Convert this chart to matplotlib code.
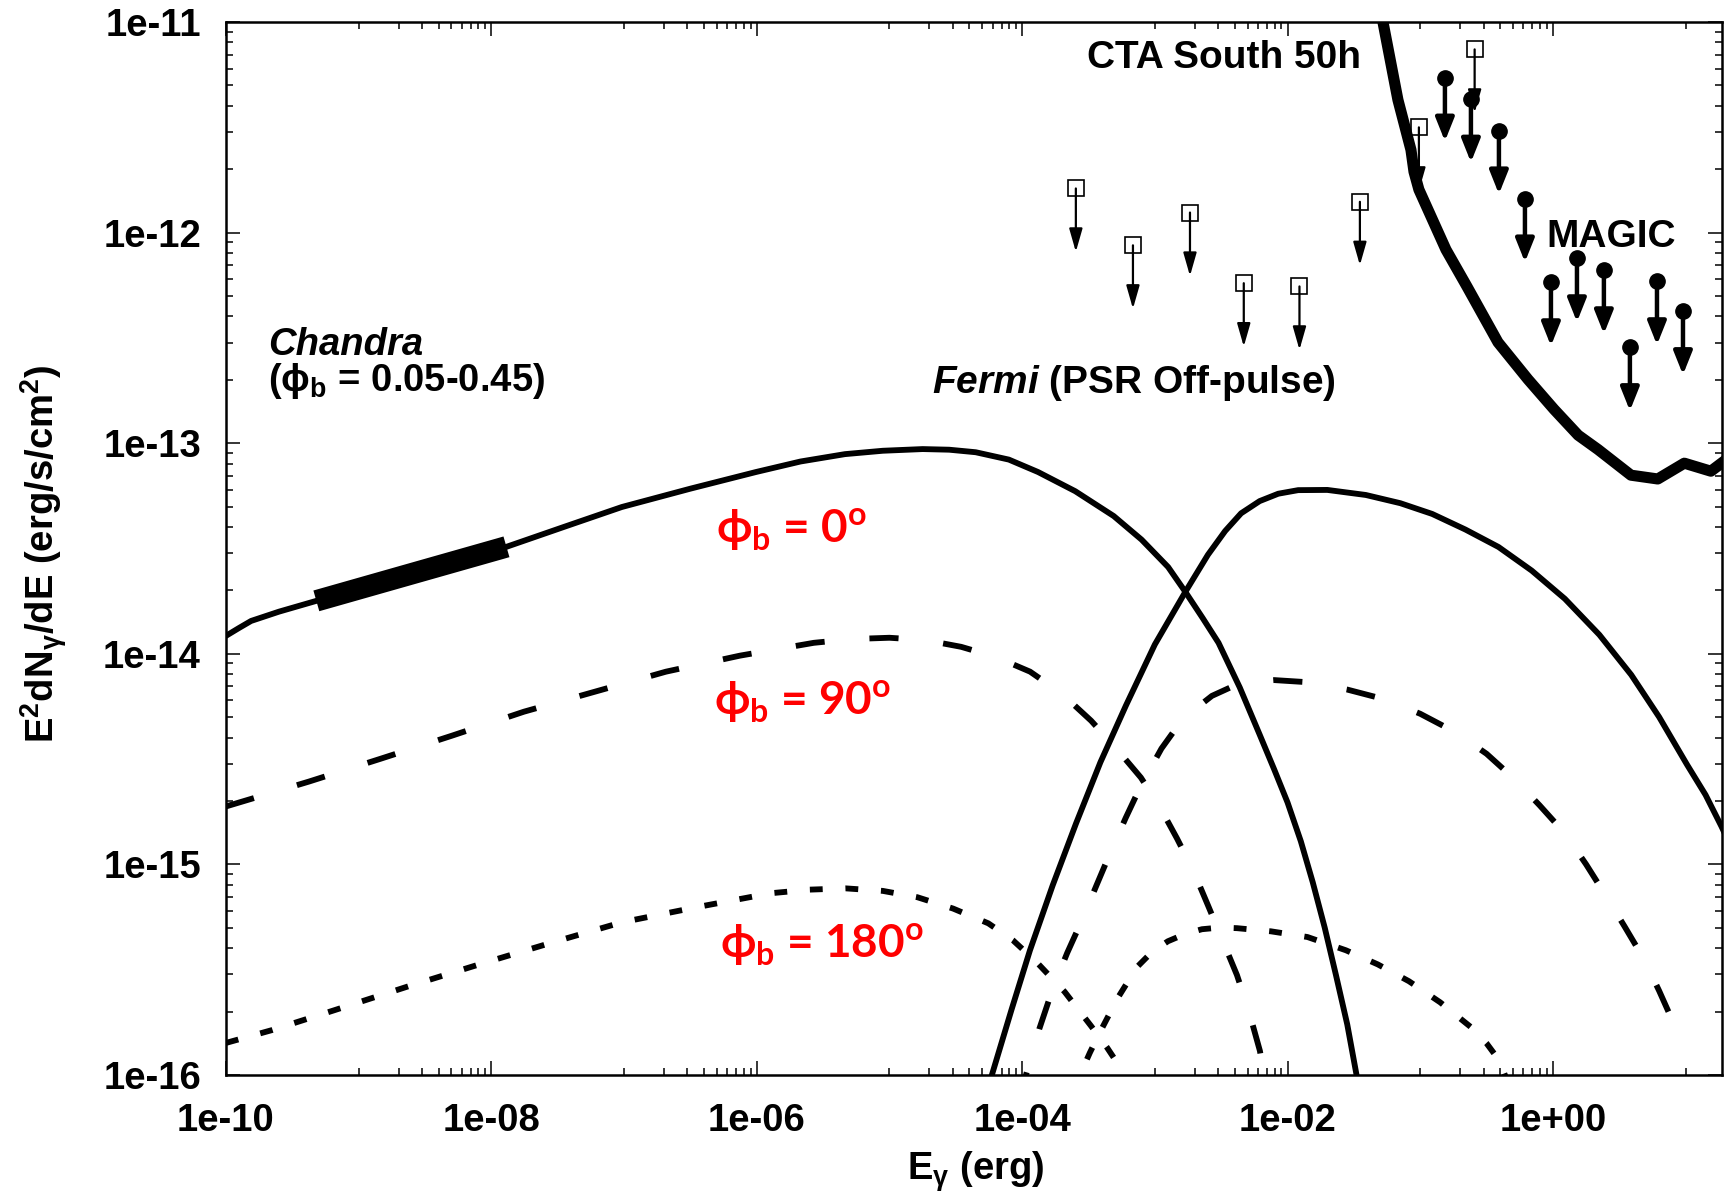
import matplotlib
matplotlib.use("Agg")
import matplotlib.pyplot as plt
import numpy as np
from matplotlib.ticker import FixedLocator, FuncFormatter, NullFormatter

# ---------------------------------------------------------------- data
# log10 E (erg) and log10 E^2 dN/dE (erg/s/cm2)

sync0_logE = [-10.0, -9.9, -9.81, -9.6, -9.32, -8.6, -7.89, -7.45, -7.016, -6.5,
              -6.006, -5.67, -5.335, -5.05, -4.75, -4.55, -4.35, -4.1, -3.88,
              -3.6, -3.31, -3.1, -2.90, -2.77, -2.64, -2.52, -2.36, -2.21, -2.1,
              -2.00, -1.9, -1.81, -1.72, -1.635, -1.55, -1.48, -1.46]
sync0_logF = [-13.915, -13.877, -13.844, -13.80, -13.749, -13.62, -13.493,
              -13.397, -13.303, -13.216, -13.137, -13.087, -13.052, -13.036,
              -13.028, -13.031, -13.043, -13.078, -13.137, -13.228, -13.346,
              -13.458, -13.588, -13.706, -13.83, -13.948, -14.16, -14.384,
              -14.55, -14.706, -14.89, -15.085, -15.30, -15.526, -15.76, -16.0,
              -16.07]

ic0_logE = [-4.30, -4.228, -4.08, -3.941, -3.77, -3.594, -3.41, -3.218, -3.0,
            -2.77, -2.6, -2.47, -2.35, -2.21, -2.07, -1.92, -1.7, -1.41, -1.15,
            -0.91, -0.66, -0.41, -0.16, 0.09, 0.35, 0.59, 0.8, 1.01, 1.15, 1.27,
            1.30]
ic0_logF = [-16.15, -16.0, -15.69, -15.408, -15.10, -14.806, -14.515, -14.246,
            -13.956, -13.706, -13.53, -13.417, -13.333, -13.275, -13.24, -13.223,
            -13.222, -13.246, -13.285, -13.336, -13.41, -13.493, -13.605,
            -13.739, -13.91, -14.10, -14.30, -14.526, -14.67, -14.82, -14.86]

sync90_logE = [-10.0, -9.375, -8.832, -8.297, -7.754, -7.219, -6.684, -6.127,
               -5.57, -5.28, -5.0, -4.73, -4.46, -4.2, -3.94, -3.7, -3.48, -3.29,
               -3.105, -2.96, -2.833, -2.71, -2.6, -2.49, -2.381, -2.29, -2.208,
               -2.178, -2.16]
sync90_logF = [-14.725, -14.607, -14.498, -14.389, -14.275, -14.18, -14.085,
               -14.009, -13.948, -13.93, -13.924, -13.935, -13.967, -14.015,
               -14.085, -14.19, -14.318, -14.45, -14.588, -14.73, -14.877,
               -15.03, -15.194, -15.36, -15.526, -15.70, -15.886, -16.0, -16.08]

ic90_logE = [-4.03, -3.971, -3.87, -3.768, -3.66, -3.549, -3.44, -3.338, -3.22,
             -3.105, -2.95, -2.788, -2.57, -2.351, -2.1, -1.85, -1.55, -1.258,
             -1.0, -0.731, -0.5, -0.286, -0.1, 0.09, 0.25, 0.392, 0.54, 0.686,
             0.80, 0.912, 0.972]
ic90_logF = [-16.12, -16.0, -15.78, -15.588, -15.42, -15.265, -15.10, -14.948,
             -14.78, -14.626, -14.45, -14.308, -14.20, -14.137, -14.125, -14.135,
             -14.17, -14.218, -14.285, -14.374, -14.475, -14.597, -14.72,
             -14.853, -15.0, -15.142, -15.295, -15.45, -15.60, -15.758, -15.82]

sync180_logE = [-10.0, -9.653, -9.18, -8.62, -8.06, -7.536, -7.016, -6.458,
                -5.893, -5.6, -5.33, -5.05, -4.79, -4.52, -4.255, -4.07, -3.89,
                -3.68, -3.48, -3.36, -3.278, -3.248, -3.22]
sync180_logF = [-15.848, -15.787, -15.692, -15.578, -15.469, -15.37, -15.275,
                -15.204, -15.137, -15.12, -15.114, -15.126, -15.156, -15.21,
                -15.28, -15.36, -15.465, -15.605, -15.768, -15.87, -15.948,
                -16.0, -16.05]

ic180_logE = [-3.62, -3.564, -3.49, -3.421, -3.28, -3.135, -3.02, -2.901, -2.77,
              -2.645, -2.51, -2.381, -2.125, -1.85, -1.56, -1.32, -1.085, -0.85,
              -0.61, -0.5, -0.407, -0.362, -0.34]
ic180_logF = [-16.08, -16.0, -15.895, -15.806, -15.635, -15.488, -15.415,
              -15.365, -15.33, -15.308, -15.30, -15.303, -15.318, -15.345,
              -15.408, -15.475, -15.555, -15.655, -15.777, -15.85, -15.929,
              -16.0, -16.04]

cta_logE = [-1.30, -1.281, -1.168, -1.07, -1.047, -1.01, -0.806, -0.648, -0.414,
            -0.188, 0.008, 0.19, 0.34, 0.588, 0.79, 0.99, 1.19, 1.27]
cta_logF = [-10.9, -11.0, -11.37, -11.607, -11.711, -11.796, -12.081, -12.256,
            -12.521, -12.697, -12.839, -12.962, -13.03, -13.152, -13.17, -13.095,
            -13.133, -13.095]

chandra_band = [4.8e-10, 1.3e-8]  # erg

fermi_E = [2.54e-4, 6.84e-4, 1.84e-3, 4.68e-3, 1.23e-2, 3.51e-2, 9.77e-2, 2.57e-1]
fermi_F = [1.62e-12, 8.7e-13, 1.245e-12, 5.75e-13, 5.55e-13, 1.40e-12,
           3.16e-12, 7.41e-12]

magic_logE = [-0.814, -0.618, -0.407, -0.211, -0.015, 0.181, 0.384, 0.58,
              0.784, 0.98]
magic_logF = [-11.265, -11.365, -11.516, -11.839, -12.237, -12.123, -12.18,
              -12.545, -12.232, -12.374]

ARROW = 0.5  # upper-limit arrows drop to half the value

x_major = [1e-10, 1e-8, 1e-6, 1e-4, 1e-2, 1e0]
y_major = [1e-16, 1e-15, 1e-14, 1e-13, 1e-12, 1e-11]

# ---------------------------------------------------------------- style
plt.rcParams.update({
    "font.family": ["Liberation Sans", "DejaVu Sans"],
    "font.weight": "bold",
    "mathtext.fontset": "custom",
    "mathtext.rm": "Liberation Sans:bold",
    "mathtext.it": "Liberation Sans:bold:italic",
    "mathtext.bf": "Liberation Sans:bold",
    "mathtext.sf": "Lato:bold",
    "mathtext.fallback": "stixsans",
})
FS = 27.5
NOTE_FS = 28
RED_FS = 33
RED_FAMILY = ["Lato", "DejaVu Sans"]
LW = 4.2


def lin(v):
    return 10 ** np.asarray(v, dtype=float)


fig = plt.figure(figsize=(17.34, 12.02), dpi=100)
ax = fig.add_axes([0.1303, 0.1057, 0.8627, 0.8760])
ax.set_xscale("log")
ax.set_yscale("log")
ax.set_xlim(1e-10, 10 ** 1.273)
ax.set_ylim(1e-16, 1e-11)

# model curves
ax.plot(lin(sync0_logE), lin(sync0_logF), color="k", lw=LW)
ax.plot(lin(ic0_logE), lin(ic0_logF), color="k", lw=LW)
for xs, ys in [(sync90_logE, sync90_logF), (ic90_logE, ic90_logF)]:
    ax.plot(lin(xs), lin(ys), color="k", lw=LW, dashes=(5.0, 7.7))
for xs, ys in [(sync180_logE, sync180_logF), (ic180_logE, ic180_logF)]:
    ax.plot(lin(xs), lin(ys), color="k", lw=LW, dashes=(2.2, 3.9))

# Chandra band highlighted on the phi_b = 0 curve
band_logE = np.linspace(np.log10(chandra_band[0]), np.log10(chandra_band[1]), 30)
band_logF = np.interp(band_logE, sync0_logE, sync0_logF)
ax.plot(lin(band_logE), lin(band_logF), color="k", lw=15.5,
        solid_capstyle="butt")

# CTA sensitivity
ax.plot(lin(cta_logE), lin(cta_logF), color="k", lw=8, solid_joinstyle="round")

# Fermi upper limits
for x, y in zip(fermi_E, fermi_F):
    ax.annotate("", xy=(x, y * ARROW), xytext=(x, y),
                arrowprops=dict(arrowstyle="-|>,head_length=0.7,head_width=0.2",
                                lw=1.6, color="k", shrinkA=0, shrinkB=0,
                                mutation_scale=20))
ax.plot(fermi_E, fermi_F, "s", ms=11.5, mfc="none", mec="k", mew=1.2)

# MAGIC upper limits
magic_E = lin(magic_logE)
magic_F = lin(magic_logF)
for x, y in zip(magic_E, magic_F):
    ax.annotate("", xy=(x, y * ARROW), xytext=(x, y),
                arrowprops=dict(arrowstyle="-|>,head_length=0.7,head_width=0.28",
                                lw=3.2, color="k", shrinkA=0, shrinkB=0,
                                mutation_scale=20))
ax.plot(magic_E, magic_F, "o", ms=11, color="k")

# ---------------------------------------------------------------- axes
ax.xaxis.set_major_locator(FixedLocator(x_major))
x_minor = [k * 10.0 ** d for d in (-9, -7, -5, -3, -1, 1) for k in range(1, 10)]
ax.xaxis.set_minor_locator(FixedLocator(x_minor))
ax.yaxis.set_major_locator(FixedLocator(y_major))
y_minor = [k * 10.0 ** d for d in range(-16, -11) for k in range(2, 10)]
ax.yaxis.set_minor_locator(FixedLocator(y_minor))
fmt = FuncFormatter(lambda v, _: f"{v:.0e}")
ax.xaxis.set_major_formatter(fmt)
ax.yaxis.set_major_formatter(fmt)
ax.xaxis.set_minor_formatter(NullFormatter())
ax.yaxis.set_minor_formatter(NullFormatter())

ax.tick_params(which="both", direction="in", top=True, right=True,
               width=1.1, labelsize=FS)
ax.tick_params(which="major", length=10)
ax.tick_params(which="minor", length=5)
ax.tick_params(axis="x", pad=20)
ax.tick_params(axis="y", pad=18)
for s in ax.spines.values():
    s.set_linewidth(1.8)

fig.text(0.0254, 0.5391,
         r"E$^{\mathrm{2}}$dN$_{\mathrm{\gamma}}$/dE (erg/s/cm$^{\mathrm{2}}$)",
         rotation=90, ha="center", va="center", fontsize=FS)
fig.text(0.5629, 0.0183, r"E$_{\mathrm{\gamma}}$ (erg)", ha="center",
         va="baseline", fontsize=FS)

# ---------------------------------------------------------------- labels
tr = ax.transAxes
ax.text(0.5755, 0.9563, "CTA South 50h", transform=tr, fontsize=NOTE_FS,
        va="baseline")
ax.text(0.8824, 0.7863, "MAGIC", transform=tr, fontsize=NOTE_FS, va="baseline")
ax.text(0.0281, 0.6835, "Chandra", transform=tr, fontsize=FS, style="italic",
        va="baseline")
ax.text(0.0281, 0.6496, r"(ϕ$_{\mathrm{b}}$ = 0.05-0.45)", transform=tr,
        fontsize=FS, va="baseline")
ax.text(0.4719, 0.6477, r"$\mathit{Fermi}$ (PSR Off-pulse)", transform=tr,
        fontsize=NOTE_FS, va="baseline")

red_labels = ["0", "90", "180"]
red_pos = [(0.3275, 0.5052), (0.3262, 0.3419), (0.3302, 0.1111)]
for lab, (px, py) in zip(red_labels, red_pos):
    ax.text(px, py, r"ϕ$_{\mathsf{b}}$ = " + lab + r"$^{\mathsf{o}}$",
            transform=tr, fontsize=RED_FS, color="#ff0000", family=RED_FAMILY,
            fontweight="bold", va="baseline")

fig.savefig("out.png", dpi=100)
